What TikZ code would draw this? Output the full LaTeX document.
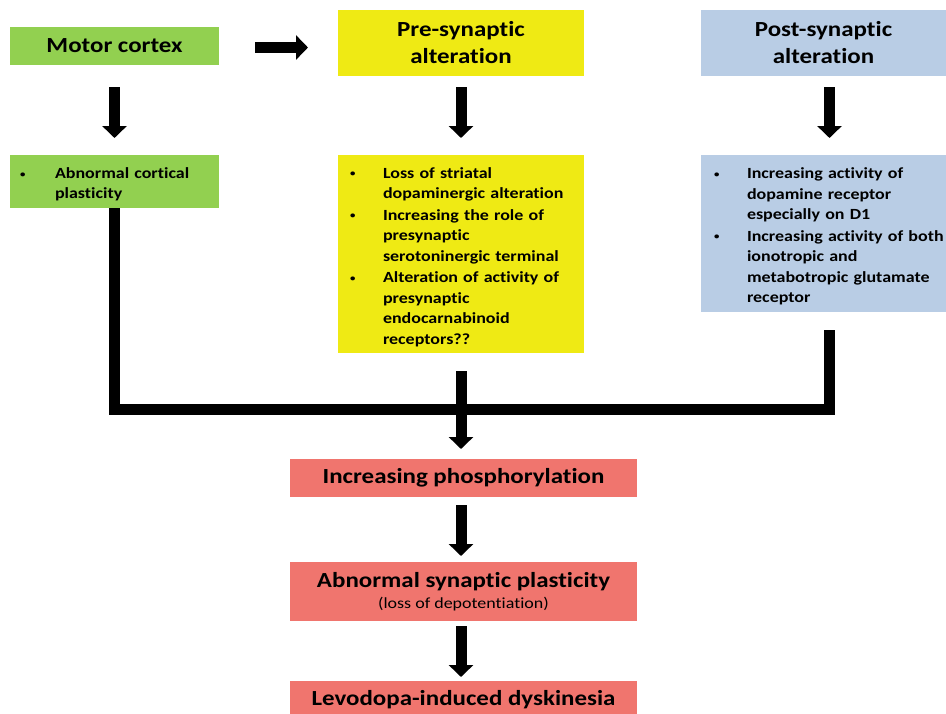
\documentclass[tikz,border=0pt]{standalone}
\usepackage{fontspec}
\usepackage{graphicx}
\setmainfont{Carlito}[FakeStretch=1.16,Ligatures=NoCommon]
\usetikzlibrary{arrows.meta,calc}
\definecolor{cgreen}{RGB}{146,208,80}
\definecolor{cyellow}{RGB}{239,234,20}
\definecolor{cblue}{RGB}{185,205,229}
\definecolor{cpink}{RGB}{240,117,110}
\newlength\mylhang
\newlength\mylbul
\newcommand{\itm}[1]{\par\noindent\makebox[\mylhang][l]{\hspace{\mylbul}\raisebox{1.2pt}{\scalebox{0.6}{\textbullet}}}\begin{tabular}[t]{@{}l@{}}#1\end{tabular}\par}
\begin{document}
\begin{tikzpicture}[x=1pt,y=-1pt,
  box/.style={rectangle,inner sep=0pt,outer sep=0pt,draw=none},
  title/.style={font=\bfseries\fontsize{21.5}{27}\selectfont,align=center},
  lst/.style={font=\bfseries\fontsize{15.5}{20.5}\selectfont,align=left},
  arr/.style={line width=11pt,-{Triangle[width=24pt,length=12pt]}}]
\useasboundingbox (0,0) rectangle (946,713);
\clip (0,0) rectangle (946,713);
\fill[white] (0,0) rectangle (946,713);
% top row
\node[box,title,fill=cgreen,minimum width=209pt,minimum height=38pt] (motor) at (114.5,46) {Motor cortex};
\node[box,title,fill=cyellow,minimum width=246pt,minimum height=66pt] (pre) at (461,43) {Pre-synaptic\\alteration};
\node[box,title,fill=cblue,minimum width=245pt,minimum height=66pt] (post) at (823.5,43) {Post-synaptic\\alteration};
% lists
\node[box,lst,fill=cgreen,text width=209pt,minimum height=53pt] (abn) at (114.5,181.5)
  {\setlength\mylhang{45pt}\setlength\mylbul{10pt}\itm{Abnormal cortical\\plasticity}};
\node[box,lst,fill=cyellow,text width=246pt,minimum height=198pt] (prelist) at (461,254)
  {\setlength\mylhang{45pt}\setlength\mylbul{12pt}\itm{Loss of striatal\\dopaminergic alteration}\itm{Increasing the role of\\presynaptic\\serotoninergic terminal}\itm{Alteration of activity of\\presynaptic\\endocarnabinoid\\receptors??}};
\node[box,lst,fill=cblue,text width=245pt,minimum height=157pt] (postlist) at (823.5,233.5)
  {\setlength\mylhang{46pt}\setlength\mylbul{13pt}\itm{Increasing activity of\\dopamine receptor\\especially on D1}\itm{Increasing activity of both\\ionotropic and\\metabotropic glutamate\\receptor}};
% bottom chain
\node[box,title,fill=cpink,minimum width=347pt,minimum height=38pt] (p1) at (463.5,478) {Increasing phosphorylation};
\node[box,fill=cpink,minimum width=347pt,minimum height=59pt,align=center,font=\bfseries\fontsize{21.5}{23}\selectfont] (p2) at (463.5,591.5)
  {Abnormal synaptic plasticity\\[-2pt]{\mdseries\fontsize{15.5}{18}\selectfont (loss of depotentiation)}};
\node[box,title,fill=cpink,minimum width=347pt,minimum height=38pt] (p3) at (463.5,700) {Levodopa-induced dyskinesia};
% arrows
\draw[arr] ($(motor.east)+(36,1.5)$) -- ($(pre.west)+(-30,4.5)$);
\draw[arr] ($(motor.south)+(0,22)$) -- ($(abn.north)+(0,-17)$);
\draw[arr] ($(pre.south)+(0,11)$) -- ($(prelist.north)+(0,-17)$);
\draw[arr] ($(post.south)+(6,11)$) -- ($(postlist.north)+(6,-17)$);
\draw[line width=11pt] (abn.south) -- ($(abn.south)+(0,201)$) -| ($(postlist.south)+(6,18)$);
\draw[arr] ($(prelist.south)+(0,18)$) -- ($(prelist.south |- p1.north)+(0,-10)$);
\draw[arr] ($(p1.south)+(-2.5,8)$) -- ($(p2.north)+(-2.5,-6)$);
\draw[arr] ($(p2.south)+(-2.5,5)$) -- ($(p3.north)+(-2.5,-4)$);
\end{tikzpicture}
\end{document}
